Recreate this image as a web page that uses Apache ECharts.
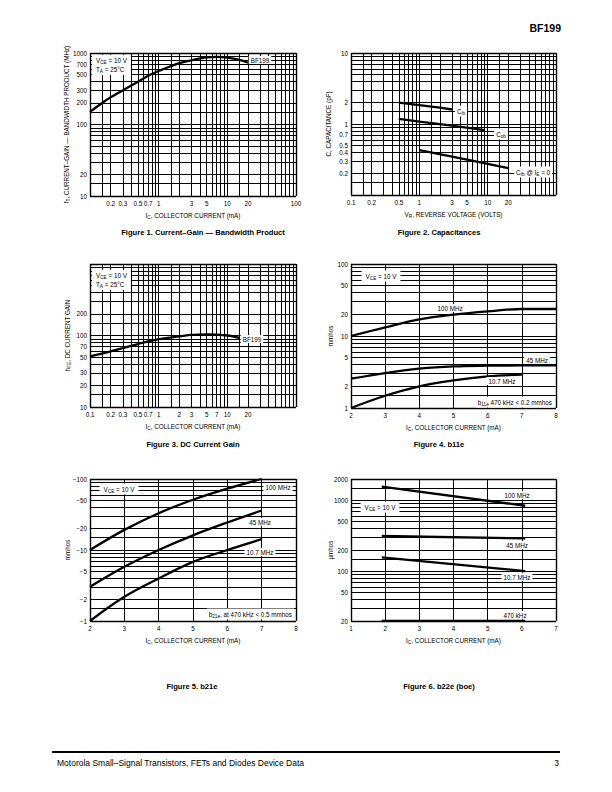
<!DOCTYPE html>
<html><head><meta charset="utf-8">
<script src="https://cdn.jsdelivr.net/npm/echarts@6/dist/echarts.min.js"></script>
<style>html,body{margin:0;padding:0;background:#fff}#c{width:612px;height:792px}</style>
</head><body><div id="c"></div>
<script>
// ---------------- DATA ----------------
// Figure 1: fT vs IC (BF199)
const fig1_ic = [0.1, 0.15, 0.2, 0.3, 0.5, 0.7, 1, 2, 3, 5, 7, 10, 15, 20];
const fig1_ft = [150, 200, 240, 300, 395, 480, 560, 720, 790, 870, 880, 860, 800, 730];
const fig1_xTicks = [0.2, 0.3, 0.5, 0.7, 1, 3, 5, 10, 20, 100];
const fig1_xLabels = ['0.2', '0.3', '0.5', '0.7', '1', '3', '5', '10', '20', '100'];
const fig1_yTicks = [10, 20, 100, 200, 300, 500, 700, 1000];
const fig1_yLabels = ['10', '20', '100', '200', '300', '500', '700', '1000'];

// Figure 2: capacitances vs VR
const fig2_cib_vr = [0.5, 1, 2, 3];
const fig2_cib = [2.0, 1.85, 1.7, 1.6];
const fig2_cob_vr = [0.5, 1, 3, 9];
const fig2_cob = [1.18, 1.08, 0.95, 0.82];
const fig2_crb_vr = [1, 5, 20];
const fig2_crb = [0.43, 0.315, 0.24];
const fig2_xTicks = [0.1, 0.2, 0.5, 1, 3, 5, 10, 20];
const fig2_xLabels = ['0.1', '0.2', '0.5', '1', '3', '5', '10', '20'];
const fig2_yTicks = [0.2, 0.3, 0.4, 0.5, 0.7, 1, 2, 10];
const fig2_yLabels = ['0.2', '0.3', '0.4', '0.5', '0.7', '1', '2', '10'];

// Figure 3: hFE vs IC
const fig3_ic = [0.1, 0.2, 0.5, 1, 2, 3, 5, 7, 10, 15];
const fig3_hfe = [51, 60, 76, 89, 97, 102, 104, 103, 100, 93];
const fig3_xTicks = [0.1, 0.2, 0.3, 0.5, 0.7, 1, 2, 3, 5, 7, 10, 20];
const fig3_xLabels = ['0.1', '0.2', '0.3', '0.5', '0.7', '1', '2', '3', '5', '7', '10', '20'];
const fig3_yTicks = [10, 20, 30, 50, 70, 100, 200];
const fig3_yLabels = ['10', '20', '30', '50', '70', '100', '200'];

// Figure 4: b11e (mmhos) vs IC
const fig4_ic = [2, 3, 4, 5, 6, 7, 8];
const fig4_100MHz = [10, 13.2, 17, 19.8, 22, 23.7, 23.7];
const fig4_45MHz = [2.55, 3.06, 3.52, 3.79, 3.87, 3.9, 3.9];
const fig4_ic_107 = [2, 3, 4, 5, 6, 7];
const fig4_107MHz = [1.0, 1.48, 2.0, 2.42, 2.75, 2.9];
const fig4_xTicks = [2, 3, 4, 5, 6, 7, 8];
const fig4_xLabels = ['2', '3', '4', '5', '6', '7', '8'];
const fig4_yTicks = [1, 2, 5, 10, 20, 50, 100];
const fig4_yLabels = ['1', '2', '5', '10', '20', '50', '100'];

// Figure 5: b21e (mmhos, negative; magnitudes plotted on log scale)
const fig5_ic = [2, 3, 4, 5, 6, 7];
const fig5_100MHz_mag = [10, 19.2, 33, 51, 73, 100];
const fig5_45MHz_mag = [3.03, 5.8, 10, 16.1, 24.4, 36];
const fig5_107MHz_mag = [1.0, 2.19, 3.97, 6.8, 10, 14.2];
const fig5_xTicks = [2, 3, 4, 5, 6, 7, 8];
const fig5_xLabels = ['2', '3', '4', '5', '6', '7', '8'];
const fig5_yTicks = [1, 2, 5, 10, 20, 50, 100];
const fig5_yLabels = ['\u22121', '\u22122', '\u22125', '\u221210', '\u221220', '\u221250', '\u2212100'];

// Figure 6: b22e (µmhos) vs IC
const fig6_ic = [1.9, 6.1];
const fig6_100MHz = [1560, 840];
const fig6_45MHz = [315, 292];
const fig6_107MHz = [157, 101];
const fig6_470kHz = [20, 20];
const fig6_xTicks = [1, 2, 3, 4, 5, 6, 7];
const fig6_xLabels = ['1', '2', '3', '4', '5', '6', '7'];
const fig6_yTicks = [20, 50, 100, 200, 500, 1000, 2000];
const fig6_yLabels = ['20', '50', '100', '200', '500', '1000', '2000'];

// grid-line multipliers per decade on the log paper
const LOG_STEPS = [1, 1.5, 2, 3, 4, 5, 6, 7, 8, 9];

// ---------------- HELPERS ----------------
const FONT = '"Liberation Sans", Arial, Helvetica, sans-serif';
const FS = 6.3;
const RICH = {
  n: {fontFamily: FONT, fontSize: FS, color: '#000', lineHeight: 9, verticalAlign: 'middle'},
  s: {fontFamily: FONT, fontSize: 4.7, color: '#000', verticalAlign: 'bottom'}
};

function logLines(min, max) {
  const out = [];
  for (let e = Math.floor(Math.log10(min) + 1e-9); Math.pow(10, e) <= max * 1.0001; e++) {
    for (const m of LOG_STEPS) {
      const v = +(m * Math.pow(10, e)).toPrecision(6);
      if (v >= min * 0.9999 && v <= max * 1.0001) out.push(v);
    }
  }
  return out;
}
function linLines(min, max) { const o = []; for (let v = min; v <= max; v++) o.push(v); return o; }

function lineItems(key, values, tickVals, tickLabels, lo, hi, dist) {
  return values.map(v => {
    const i = tickVals.findIndex(t => Math.abs(t - v) < 1e-6 * Math.max(1e-3, Math.abs(v)));
    const frame = Math.abs(v - lo) < 1e-9 || Math.abs(v - hi) < 1e-9;
    const it = {lineStyle: {width: frame ? 1.4 : 1.0}};
    it[key] = v;
    it.label = i >= 0 ? {show: true, formatter: tickLabels[i], distance: dist} : {show: false};
    return it;
  });
}

const grids = [
  {left: 90, top: 53, width: 206, height: 143},
  {left: 351, top: 53, width: 205, height: 142},
  {left: 90, top: 264, width: 206, height: 143},
  {left: 351, top: 264, width: 205, height: 144},
  {left: 90, top: 479, width: 206, height: 142},
  {left: 351, top: 479, width: 205, height: 142}
];

const axisCfg = [
  // [xType, xMin, xMax, yMin, yMax, xTicks, xLabels, yTicks, yLabels, xName, yName, yGap]
  ['log', 0.1, 100, 10, 1000, fig1_xTicks, fig1_xLabels, fig1_yTicks, fig1_yLabels,
    '{n|I}{s|C}{n|, COLLECTOR CURRENT (mA)}', '{n|f}{s|T}{n|, CURRENT\u2013GAIN \u2014 BANDWIDTH PRODUCT (MHz)}', 19],
  ['log', 0.1, 100, 0.1, 10, fig2_xTicks, fig2_xLabels, fig2_yTicks, fig2_yLabels,
    '{n|V}{s|R}{n|, REVERSE VOLTAGE (VOLTS)}', '{n|C, CAPACITANCE (pF)}', 18],
  ['log', 0.1, 100, 10, 1000, fig3_xTicks, fig3_xLabels, fig3_yTicks, fig3_yLabels,
    '{n|I}{s|C}{n|, COLLECTOR CURRENT (mA)}', '{n|h}{s|FE}{n|, DC CURRENT GAIN}', 18],
  ['value', 2, 8, 1, 100, fig4_xTicks, fig4_xLabels, fig4_yTicks, fig4_yLabels,
    '{n|I}{s|C}{n|, COLLECTOR CURRENT (mA)}', '{n|mmhos}', 16],
  ['value', 2, 8, 1, 100, fig5_xTicks, fig5_xLabels, fig5_yTicks, fig5_yLabels,
    '{n|I}{s|C}{n|, COLLECTOR CURRENT (mA)}', '{n|mmhos}', 18],
  ['value', 1, 7, 20, 2000, fig6_xTicks, fig6_xLabels, fig6_yTicks, fig6_yLabels,
    '{n|I}{s|C}{n|, COLLECTOR CURRENT (mA)}', '{n|\u00b5mhos}', 16]
];

const xAxes = [], yAxes = [], series = [];
axisCfg.forEach((c, i) => {
  const [xt, x0, x1, y0, y1, xT, xL, yT, yL, xName, yName, yGap] = c;
  const hidden = {axisLine: {show: false}, axisTick: {show: false}, axisLabel: {show: false}, splitLine: {show: false}, minorSplitLine: {show: false}};
  xAxes.push(Object.assign({gridIndex: i, type: xt, logBase: 10, min: x0, max: x1,
    name: xName, nameLocation: 'middle', nameGap: 15,
    nameTextStyle: {rich: RICH}}, hidden));
  yAxes.push(Object.assign({gridIndex: i, type: 'log', logBase: 10, min: y0, max: y1,
    name: yName, nameLocation: 'middle', nameGap: yGap, nameRotate: 90,
    nameTextStyle: {rich: RICH}}, hidden));
  const xv = xt === 'log' ? logLines(x0, x1) : linLines(x0, x1);
  const yv = logLines(y0, y1);
  series.push({
    type: 'line', xAxisIndex: i, yAxisIndex: i, data: [], z: 1, silent: true, animation: false,
    markLine: {
      silent: true, z: 1, animation: false, symbol: ['none', 'none'],
      lineStyle: {color: '#000', type: 'solid', width: 1.0},
      label: {position: 'start', color: '#000', fontFamily: FONT, fontSize: FS},
      emphasis: {disabled: true},
      data: lineItems('xAxis', xv, xT, xL, x0, x1, 4).concat(lineItems('yAxis', yv, yT, yL, y0, y1, 3))
    }
  });
});

function curve(i, xs, ys, smooth, w) {
  return {type: 'line', xAxisIndex: i, yAxisIndex: i, data: xs.map((x, k) => [x, ys[k]]),
    symbol: 'none', smooth: smooth ? 0.35 : false, z: 3, silent: true, animation: false,
    lineStyle: {color: '#000', width: w || 2.3}};
}
series.push(curve(0, fig1_ic, fig1_ft, true));
series.push(curve(1, fig2_cib_vr, fig2_cib, false));
series.push(curve(1, fig2_cob_vr, fig2_cob, false));
series.push(curve(1, fig2_crb_vr, fig2_crb, false));
series.push(curve(2, fig3_ic, fig3_hfe, true));
series.push(curve(3, fig4_ic, fig4_100MHz, true));
series.push(curve(3, fig4_ic, fig4_45MHz, true));
series.push(curve(3, fig4_ic_107, fig4_107MHz, true));
series.push(curve(4, fig5_ic, fig5_100MHz_mag, true));
series.push(curve(4, fig5_ic, fig5_45MHz_mag, true));
series.push(curve(4, fig5_ic, fig5_107MHz_mag, true));
series.push(curve(5, fig6_ic, fig6_100MHz, false));
series.push(curve(5, fig6_ic, fig6_45MHz, false));
series.push(curve(5, fig6_ic, fig6_107MHz, false));
series.push(curve(5, fig6_ic, fig6_470kHz, false, 2.6));

// ---------------- ANNOTATIONS ----------------
function txt(x, y, text, o) {
  return {type: 'text', x: x, y: y, z: 100, silent: true,
    style: Object.assign({text: text, fill: '#000', fontFamily: FONT, fontSize: FS,
      align: 'center', verticalAlign: 'middle', backgroundColor: '#fff', padding: [1, 2], rich: RICH}, o || {})};
}
const VCE = '{n|V}{s|CE}{n| = 10 V}';
const VCE_TA = '{n|V}{s|CE}{n| = 10 V}\n{n|T}{s|A}{n| = 25\u00b0C}';
const graphics = [
  // header & footer
  {type: 'text', x: 561, y: 28, z: 100, style: {text: 'BF199', fill: '#000', fontFamily: FONT, fontSize: 10.5, fontWeight: 900, align: 'right', verticalAlign: 'middle'}},
  {type: 'line', z: 100, shape: {x1: 52, y1: 752, x2: 560, y2: 752}, style: {stroke: '#000', lineWidth: 2}},
  {type: 'text', x: 57, y: 763, z: 100, style: {text: 'Motorola Small\u2013Signal Transistors, FETs and Diodes Device Data', fill: '#000', fontFamily: FONT, fontSize: 8.5, align: 'left', verticalAlign: 'middle'}},
  {type: 'text', x: 559, y: 763, z: 100, style: {text: '3', fill: '#000', fontFamily: FONT, fontSize: 8.5, align: 'right', verticalAlign: 'middle'}},
  // figure titles
  {type: 'text', x: 203, y: 232, z: 100, style: {text: 'Figure 1. Current\u2013Gain \u2014 Bandwidth Product', fill: '#000', fontFamily: FONT, fontSize: 7.6, fontWeight: 'bold', align: 'center', verticalAlign: 'middle'}},
  {type: 'text', x: 439, y: 232, z: 100, style: {text: 'Figure 2. Capacitances', fill: '#000', fontFamily: FONT, fontSize: 7.6, fontWeight: 'bold', align: 'center', verticalAlign: 'middle'}},
  {type: 'text', x: 193, y: 444, z: 100, style: {text: 'Figure 3. DC Current Gain', fill: '#000', fontFamily: FONT, fontSize: 7.6, fontWeight: 'bold', align: 'center', verticalAlign: 'middle'}},
  {type: 'text', x: 439, y: 444, z: 100, style: {text: 'Figure 4. b11e', fill: '#000', fontFamily: FONT, fontSize: 7.6, fontWeight: 'bold', align: 'center', verticalAlign: 'middle'}},
  {type: 'text', x: 192, y: 686, z: 100, style: {text: 'Figure 5. b21e', fill: '#000', fontFamily: FONT, fontSize: 7.6, fontWeight: 'bold', align: 'center', verticalAlign: 'middle'}},
  {type: 'text', x: 439, y: 686, z: 100, style: {text: 'Figure 6. b22e (boe)', fill: '#000', fontFamily: FONT, fontSize: 7.6, fontWeight: 'bold', align: 'center', verticalAlign: 'middle'}},
  // fig 1
  txt(92, 55, VCE_TA, {align: 'left', verticalAlign: 'top', padding: [1, 4, 1, 4]}),
  txt(260, 60, 'BF199'),
  // fig 2
  txt(461, 111, '{n|C}{s|ib}'),
  txt(501, 134, '{n|C}{s|ob}'),
  txt(533, 172, '{n|C}{s|rb}{n| @ I}{s|E}{n| = 0}'),
  // fig 3
  txt(92, 270, VCE_TA, {align: 'left', verticalAlign: 'top', padding: [1, 4, 1, 4]}),
  txt(252, 339, 'BF199'),
  // fig 4
  txt(381, 276, VCE, {padding: [1, 4]}),
  txt(450, 308, '100 MHz'),
  txt(537, 360, '45 MHz'),
  txt(502, 381, '10.7 MHz'),
  txt(554, 402, '{n|b}{s|11e}{n| 470 kHz < 0.2 mmhos}', {align: 'right'}),
  // fig 5
  txt(119, 489, VCE, {padding: [1, 4]}),
  txt(278, 487, '100 MHz'),
  txt(260, 522, '45 MHz'),
  txt(260, 552, '10.7 MHz'),
  txt(294, 614, '{n|b}{s|21e}{n|, at 470 kHz < 0.5 mmhos}', {align: 'right'}),
  // fig 6
  txt(380, 507, VCE, {padding: [1, 4]}),
  txt(517, 495, '100 MHz'),
  txt(517, 545, '45 MHz'),
  txt(517, 577, '10.7 MHz'),
  txt(515, 615, '470 kHz')
];

const chart = echarts.init(document.getElementById('c'), null, {renderer: 'svg'});
chart.setOption({
  animation: false,
  backgroundColor: '#fff',
  textStyle: {fontFamily: FONT, color: '#000'},
  grid: grids.map(g => Object.assign({show: false, containLabel: false}, g)),
  xAxis: xAxes,
  yAxis: yAxes,
  series: series,
  graphic: graphics
});
</script></body></html>
